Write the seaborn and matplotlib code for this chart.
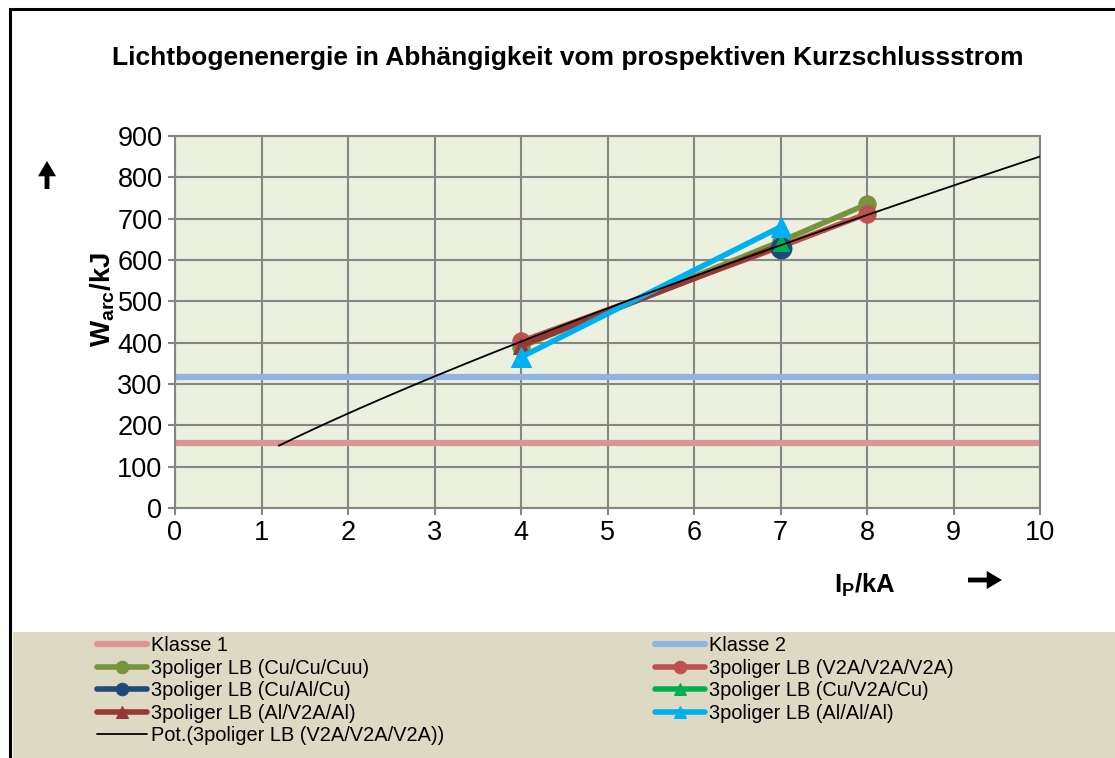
import numpy as np
import pandas as pd
import matplotlib
matplotlib.use("Agg")
import matplotlib.pyplot as plt
import matplotlib.patches as patches
import seaborn as sns

# data
klasse1 = 158
klasse2 = 318
strom = [4, 7, 8]
cu_cu_cuu = [390, 645, 735]
v2a = [403, 632, 712]
strom_2 = [4, 7]
strom_3 = [7]
cu_al_cu = [630]
cu_v2a_cu = [641]
al_v2a_al = [393, 636]
al_al_al = [365, 680]
trend_range = [1.2, 10]

sns.set_style("white")
plt.rcParams["font.family"] = ["Liberation Sans", "DejaVu Sans"]
plt.rcParams["mathtext.fontset"] = "custom"
plt.rcParams["mathtext.bf"] = "Liberation Sans:bold"
plt.rcParams["mathtext.rm"] = "Liberation Sans"
plt.rcParams["text.color"] = "black"
plt.rcParams["xtick.color"] = "black"
plt.rcParams["ytick.color"] = "black"

W, H = 1115, 758
fig = plt.figure(figsize=(W / 100, H / 100), dpi=100)
fig.patch.set_facecolor("white")

# legend background and outer frame
fig.patches.append(patches.Rectangle((13 / W, 0), 1, (H - 632) / H, transform=fig.transFigure,
                                     facecolor="#DDD9C3", edgecolor="none", zorder=0))
fig.patches.append(patches.Rectangle((10 / W, -0.05), 1.1, (H - 9) / H + 0.05, transform=fig.transFigure,
                                     fill=False, edgecolor="black", lw=2.2, zorder=5))

ax = fig.add_axes([175 / W, (H - 508) / H, (1040 - 175) / W, (508 - 136) / H])
ax.set_facecolor("#EBF1DE")

ax.axhline(klasse1, color="#D99694", lw=4.5, label="Klasse 1", zorder=2)
ax.axhline(klasse2, color="#8EB4E3", lw=4.5, label="Klasse 2", zorder=2)

# name, x, y, colour, marker, marker size, z-order
series = [
    ("3poliger LB (Cu/Cu/Cuu)", strom, cu_cu_cuu, "#77933C", "o", 12.5, 3.0),
    ("3poliger LB (V2A/V2A/V2A)", strom, v2a, "#C0504D", "o", 12.5, 3.1),
    ("3poliger LB (Cu/Al/Cu)", strom_3, cu_al_cu, "#1F497D", "o", 15, 3.3),
    ("3poliger LB (Cu/V2A/Cu)", strom_3, cu_v2a_cu, "#00B050", "^", 11, 3.4),
    ("3poliger LB (Al/V2A/Al)", strom_2, al_v2a_al, "#953735", "^", 12, 3.2),
    ("3poliger LB (Al/Al/Al)", strom_2, al_al_al, "#00B0F0", "^", 14, 3.5),
]
for name, xs, ys, col, mk, ms, z in series:
    sns.lineplot(x=xs, y=ys, color=col, marker=mk, markersize=ms,
                 markeredgecolor=col, lw=4, label=name, ax=ax, zorder=z)

# power trend line of V2A/V2A/V2A
b, ln_a = np.polyfit(np.log(strom), np.log(v2a), 1)
xt = np.linspace(trend_range[0], trend_range[1], 200)
trend = pd.DataFrame({"x": xt, "y": np.exp(ln_a) * xt ** b})
sns.lineplot(data=trend, x="x", y="y", color="black", lw=1.3,
             label="Pot.(3poliger LB (V2A/V2A/V2A))", ax=ax, zorder=4)

ax.set_xlim(0, 10)
ax.set_ylim(0, 900)
ax.set_xticks(range(0, 11))
ax.set_yticks(range(0, 901, 100))
ax.grid(True, color="#868686", lw=1.5)
ax.set_axisbelow(True)
for s in ax.spines.values():
    s.set_color("#868686")
    s.set_linewidth(1.5)
ax.tick_params(labelsize=19.5, length=5, color="#868686", labelcolor="black",
               width=1.5, pad=4, bottom=True, left=True)
ax.set_xlabel("")
ax.set_ylabel("")

handles, labels = ax.get_legend_handles_labels()
ax.legend_.remove()
hmap = dict(zip(labels, handles))
left_col = ["Klasse 1", "3poliger LB (Cu/Cu/Cuu)", "3poliger LB (Cu/Al/Cu)",
            "3poliger LB (Al/V2A/Al)", "Pot.(3poliger LB (V2A/V2A/V2A))"]
right_col = ["Klasse 2", "3poliger LB (V2A/V2A/V2A)", "3poliger LB (Cu/V2A/Cu)",
             "3poliger LB (Al/Al/Al)"]
for names, x0 in [(left_col, 97), (right_col, 655)]:
    leg = fig.legend([hmap[n] for n in names], names, loc="upper left",
                     bbox_to_anchor=(x0 / W, (H - 636) / H), frameon=False, fontsize=14.4,
                     handlelength=2.5, handletextpad=0.2, labelspacing=0.18, borderpad=0,
                     borderaxespad=0, numpoints=1)
    for lh in leg.legend_handles:
        if lh.get_marker() not in (None, "None", ""):
            lh.set_markersize(9)

fig.text(568 / W, (H - 58) / H, "Lichtbogenenergie in Abhängigkeit vom prospektiven Kurzschlussstrom",
         ha="center", va="center", fontsize=19, fontweight="bold")
fig.text(103 / W, (H - 300) / H, r"$\mathbf{W_{arc}/kJ}$", rotation=90,
         ha="center", va="center", fontsize=20)
fig.text(865 / W, (H - 585) / H, r"$\mathbf{I_{P}/kA}$", ha="center", va="center", fontsize=18.5)

arrow = dict(width=3.5, headwidth=13, headlength=11, color="black", lw=0)
ax.annotate("", xy=(47, H - 161), xytext=(47, H - 189), xycoords="figure pixels",
            textcoords="figure pixels", arrowprops=arrow, annotation_clip=False)
ax.annotate("", xy=(1002, H - 580), xytext=(968, H - 580), xycoords="figure pixels",
            textcoords="figure pixels", arrowprops=arrow, annotation_clip=False)

fig.savefig("out.png", dpi=100)
